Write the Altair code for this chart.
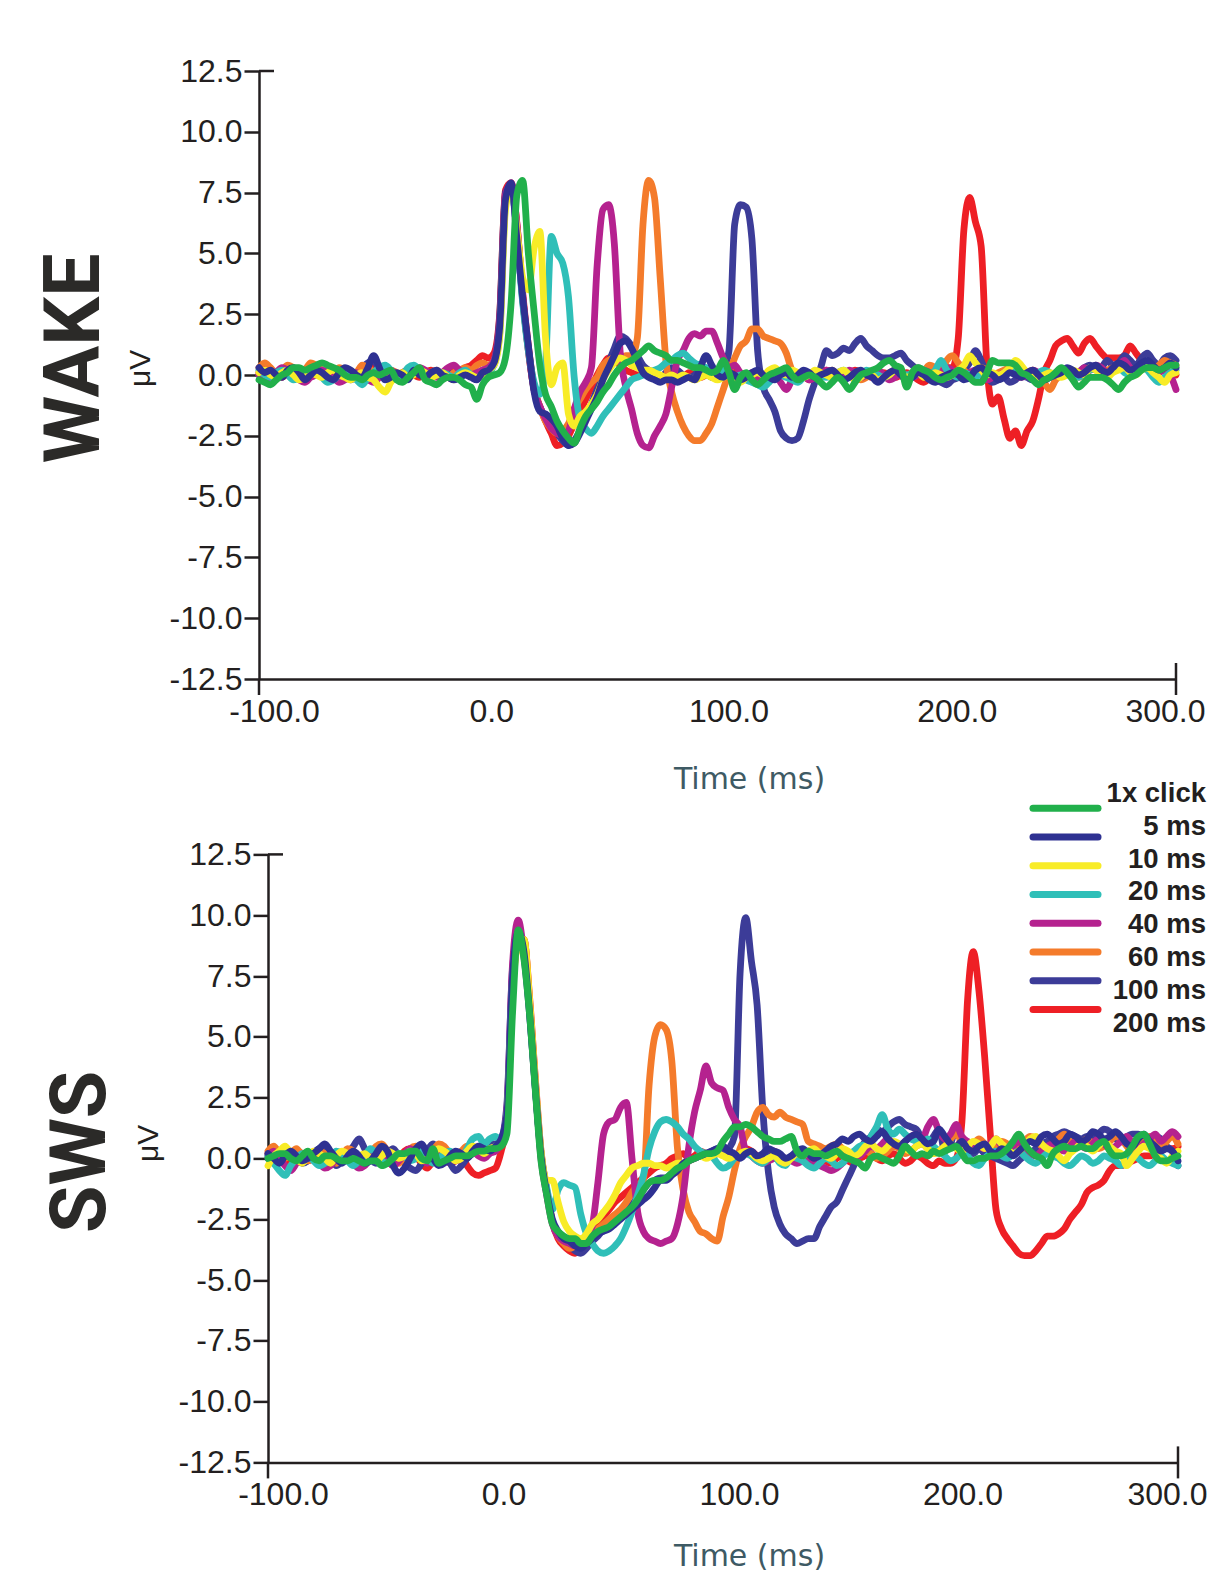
import altair as alt
import pandas as pd

SERIES = ["1x click", "5 ms", "10 ms", "20 ms", "40 ms", "60 ms", "100 ms", "200 ms"]
COLORS = ["#21b04b", "#2e3192", "#f8ec27", "#2fbfb8", "#b5228f", "#f47b2b", "#3c3c98", "#ee1f25"]
DRAW_ORDER = SERIES[::-1]          # green drawn last (on top)
T0, DT = -100.0, 2.5               # time grid of the traces (ms)
X_TICKS = [-100, 0, 100, 200, 300]
Y_TICKS = [-12.5, -10, -7.5, -5, -2.5, 0, 2.5, 5, 7.5, 10, 12.5]

# ---------------- WAKE traces (uV), one value every 2.5 ms from -100 to 300 ms ----------------
WAKE_1X = [-0.2, -0.3, -0.4, -0.2, 0.0, 0.1, 0.3, 0.3, 0.2, 0.3,
           0.4, 0.5, 0.4, 0.3, 0.2, 0.0, -0.1, -0.1, -0.2, 0.0,
           0.1, 0.0, 0.1, 0.2, -0.2, -0.3, -0.1, 0.1, 0.3, -0.2,
           -0.3, -0.4, -0.2, -0.1, -0.1, -0.2, -0.4, -0.5, -1.0, -0.4,
           -0.1, 0.0, 0.1, 0.7, 3.0, 7.4, 8.0, 5.0, 2.6, 0.4,
           -0.8, -1.3, -1.9, -2.3, -2.6, -2.8, -2.2, -1.7, -1.4, -1.1,
           -0.7, -0.4, 0.0, 0.3, 0.5, 0.6, 0.8, 1.0, 1.2, 1.0,
           0.9, 0.8, 0.6, 0.6, 0.5, 0.4, 0.3, 0.3, 0.2, 0.1,
           0.2, 0.6, 0.1, -0.6, -0.1, 0.1, -0.2, -0.4, -0.2, 0.0,
           0.1, 0.2, 0.3, 0.0, -0.2, -0.1, 0.0, -0.1, -0.3, -0.5,
           -0.3, -0.1, -0.3, -0.6, -0.3, 0.0, 0.1, 0.2, 0.3, 0.5,
           0.6, 0.4, 0.3, -0.5, 0.1, 0.3, 0.2, 0.1, -0.1, -0.2,
           -0.1, 0.0, 0.2, 0.1, -0.1, -0.3, -0.3, 0.1, 0.6, 0.5,
           0.5, 0.5, 0.4, 0.1, 0.0, -0.2, -0.4, -0.2, -0.1, 0.1,
           0.3, 0.1, -0.2, -0.5, -0.3, -0.1, -0.1, -0.1, -0.2, -0.4,
           -0.6, -0.3, -0.1, 0.0, 0.2, 0.3, 0.3, 0.2, 0.3, 0.4,
           0.4]
WAKE_5 = [0.3, 0.1, 0.2, 0.0, -0.1, 0.2, 0.3, 0.1, -0.2, 0.0,
          0.2, 0.1, -0.1, -0.2, 0.1, 0.3, 0.2, 0.0, -0.1, 0.3,
          0.8, 0.3, -0.2, -0.1, 0.1, 0.0, -0.2, 0.2, 0.0, -0.1,
          0.1, 0.2, 0.0, -0.1, -0.2, -0.1, 0.0, -0.1, -0.2, 0.1,
          0.2, 0.5, 2.0, 7.2, 7.9, 5.6, 3.2, 1.2, -0.7, -1.5,
          -1.6, -1.8, -2.1, -2.6, -2.9, -2.8, -2.4, -1.9, -1.4, -0.9,
          -0.2, 0.3, 0.8, 1.3, 1.4, 1.1, 0.6, 0.1, -0.1, -0.2,
          -0.3, -0.2, -0.2, -0.3, -0.2, -0.1, -0.2, 0.3, 0.8, 0.4,
          0.0, -0.1, 0.1, 0.0, -0.2, -0.1, 0.1, 0.2, 0.0, -0.1,
          -0.2, 0.0, 0.1, -0.1, 0.0, 0.2, 0.1, -0.1, 0.0, 0.1,
          0.2, 0.0, -0.2, -0.1, 0.1, 0.2, 0.0, -0.1, -0.3, -0.1,
          0.1, 0.2, 0.0, -0.2, -0.1, 0.1, 0.0, -0.2, -0.3, -0.1,
          0.0, 0.1, 0.0, -0.2, -0.1, 0.2, 0.3, 0.1, 0.0, -0.2,
          -0.1, 0.1, 0.0, -0.1, 0.1, 0.2, 0.0, -0.2, -0.1, 0.0,
          0.1, 0.3, 0.2, 0.0, 0.1, 0.3, 0.4, 0.2, 0.1, 0.3,
          0.5, 0.4, 0.2, 0.3, 0.5, 0.6, 0.4, 0.2, 0.3, 0.5,
          0.3]
WAKE_10 = [0.1, 0.2, 0.0, -0.1, 0.1, 0.2, 0.0, -0.2, -0.1, 0.1,
           0.0, -0.1, 0.1, 0.2, 0.0, -0.1, -0.2, 0.0, 0.1, -0.1,
           -0.2, -0.5, -0.7, -0.3, 0.0, 0.1, -0.1, 0.0, 0.2, 0.1,
           -0.1, 0.0, 0.1, -0.1, -0.2, 0.0, 0.1, 0.0, -0.1, 0.0,
           0.2, 0.4, 1.6, 6.8, 7.8, 6.0, 4.0, 3.5, 5.2, 5.9,
           1.5, -0.4, 0.3, 0.5, -1.6, -2.1, -1.7, -1.5, -1.2, -0.8,
           -0.2, 0.2, 0.5, 0.7, 0.6, 0.4, 0.3, 0.2, 0.2, 0.1,
           0.0, -0.1, 0.0, -0.1, 0.0, -0.1, -0.2, -0.1, 0.0, -0.1,
           -0.2, -0.1, 0.0, -0.2, -0.3, -0.1, 0.0, 0.1, 0.0, 0.2,
           0.3, 0.1, 0.0, 0.2, 0.1, -0.1, 0.0, 0.2, 0.1, 0.0,
           -0.1, 0.1, 0.2, 0.0, -0.2, -0.1, 0.1, 0.0, -0.2, -0.1,
           0.0, 0.2, 0.1, -0.1, 0.0, 0.1, -0.1, 0.0, 0.1, 0.0,
           -0.1, 0.0, 0.2, 0.4, 0.8, 0.5, 0.2, 0.0, 0.1, 0.0,
           0.1, 0.3, 0.6, 0.4, 0.1, 0.0, -0.1, 0.0, 0.1, 0.0,
           -0.1, 0.0, 0.2, 0.1, 0.0, 0.3, 0.2, 0.0, -0.1, 0.1,
           0.2, 0.3, 0.1, 0.0, 0.2, 0.3, 0.1, -0.1, -0.3, 0.0,
           0.1]
WAKE_20 = [0.2, 0.0, -0.1, 0.1, 0.2, 0.0, -0.2, -0.1, 0.0, 0.2,
           0.1, -0.1, -0.3, -0.2, 0.0, 0.1, 0.0, -0.2, -0.4, -0.1,
           0.1, 0.3, 0.4, 0.2, -0.1, 0.0, 0.3, 0.4, 0.2, 0.0,
           -0.1, 0.0, 0.1, 0.0, -0.1, 0.1, 0.2, 0.0, -0.1, 0.0,
           0.1, 0.4, 1.7, 7.0, 7.8, 5.8, 3.0, 1.0, -0.3, -0.8,
           0.5, 5.7, 5.0, 4.6, 3.2, -0.1, -1.8, -2.2, -2.4, -2.1,
           -1.7, -1.4, -1.1, -0.8, -0.5, -0.2, -0.1, 0.0, 0.1, 0.2,
           0.3, 0.5, 0.6, 0.8, 0.9, 0.7, 0.5, 0.4, 0.3, 0.2,
           0.1, 0.2, 0.0, -0.1, 0.0, -0.2, -0.3, -0.4, -0.5, -0.3,
           -0.1, 0.0, -0.1, -0.2, -0.3, -0.1, 0.0, 0.1, 0.0, -0.1,
           0.0, 0.1, 0.2, 0.0, -0.1, 0.0, 0.2, 0.1, 0.0, -0.1,
           0.0, 0.2, 0.1, 0.0, 0.1, 0.3, 0.2, 0.0, 0.2, 0.6,
           0.2, 0.0, -0.1, 0.1, 0.0, -0.1, 0.1, 0.2, 0.0, -0.1,
           0.0, 0.1, 0.2, 0.1, 0.0, -0.1, 0.1, 0.2, 0.1, 0.0,
           0.1, 0.2, 0.0, -0.1, 0.1, 0.2, 0.3, 0.1, 0.0, 0.2,
           0.3, 0.1, 0.0, 0.2, 0.4, 0.2, -0.1, -0.3, -0.1, 0.1,
           0.2]
WAKE_40 = [0.0, -0.2, -0.1, 0.1, 0.3, 0.2, 0.0, -0.2, -0.3, -0.1,
           0.0, 0.2, 0.1, -0.1, -0.3, -0.2, 0.0, 0.1, -0.1, -0.2,
           -0.3, -0.1, 0.1, 0.2, 0.0, -0.2, -0.1, 0.1, 0.3, 0.2,
           0.0, -0.1, 0.1, 0.3, 0.4, 0.2, 0.1, 0.0, 0.1, 0.2,
           0.3, 0.6, 2.2, 7.4, 7.9, 6.2, 3.3, 1.0, -0.6, -1.3,
           -1.8, -2.2, -2.4, -2.5, -2.3, -1.4, -0.7, -0.3, 0.3, 4.5,
           6.8, 7.0, 5.4, 1.0, -0.5, -1.4, -2.4, -2.9, -3.0, -2.5,
           -2.1, -1.6, -0.5, 0.6, 1.0, 1.5, 1.7, 1.6, 1.8, 1.8,
           1.3, 0.7, 0.3, 0.4, 0.1, 0.0, 0.1, -0.1, -0.2, 0.0,
           0.0, -0.3, -0.6, -0.2, 0.1, 0.0, -0.2, -0.1, 0.0, 0.2,
           0.1, -0.1, 0.0, 0.2, 0.1, -0.1, 0.0, 0.1, 0.2, 0.0,
           -0.2, -0.1, 0.1, 0.0, -0.1, 0.0, 0.2, 0.1, 0.0, 0.1,
           0.3, 0.2, 0.0, -0.1, 0.1, 0.2, 0.0, -0.2, -0.1, 0.0,
           0.1, 0.2, 0.0, -0.1, 0.0, 0.2, 0.1, -0.1, 0.0, 0.1,
           0.2, 0.1, 0.0, 0.1, 0.3, 0.2, 0.4, 0.3, 0.1, 0.2,
           0.4, 0.6, 0.3, 0.2, 0.4, 0.5, 0.3, 0.1, 0.2, 0.0,
           -0.6]
WAKE_60 = [0.3, 0.5, 0.3, 0.1, 0.2, 0.4, 0.3, 0.1, 0.2, 0.5,
           0.4, 0.2, 0.0, 0.1, 0.3, 0.2, 0.0, 0.1, 0.4, 0.3,
           0.1, -0.1, 0.0, 0.2, 0.1, 0.0, 0.2, 0.3, 0.1, 0.0,
           0.1, 0.2, 0.0, -0.1, 0.1, 0.2, 0.3, 0.2, 0.4, 0.5,
           0.4, 0.6, 2.0, 7.3, 7.8, 6.1, 3.2, 1.0, -0.6, -1.3,
           -1.9, -2.2, -2.4, -2.3, -2.0, -1.4, -1.0, -0.6, -0.3, -0.1,
           0.4, 0.6, 0.7, 0.7, 0.8, 0.8, 1.5, 6.2, 8.0, 7.3,
           4.0, 0.6, -0.7, -1.5, -2.1, -2.5, -2.7, -2.7, -2.4, -2.0,
           -1.3, -0.6, 0.1, 0.7, 1.2, 1.4, 1.9, 1.9, 1.6, 1.5,
           1.4, 1.3, 0.9, 0.2, 0.0, -0.1, 0.1, 0.0, -0.1, 0.1,
           0.2, 0.0, -0.1, 0.1, 0.0, -0.2, -0.1, 0.1, 0.0, -0.1,
           0.1, 0.2, 0.0, -0.2, 0.1, 0.3, 0.2, 0.4, 0.3, 0.1,
           0.6, 0.8, 0.5, 0.2, 0.0, 0.1, 0.3, 0.2, 0.0, 0.1,
           0.2, 0.3, 0.1, 0.0, 0.1, 0.2, 0.0, -0.3, -0.6, -0.2,
           0.0, 0.2, 0.1, -0.1, 0.0, 0.2, 0.3, 0.1, 0.2, 0.3,
           0.4, 0.5, 0.3, 0.2, 0.4, 0.5, 0.3, 0.4, 0.6, 0.5,
           0.4]
WAKE_100 = [0.0, 0.2, 0.1, -0.1, 0.0, 0.3, 0.2, 0.0, -0.1, 0.1,
            0.2, 0.0, -0.1, 0.1, 0.2, 0.0, -0.2, 0.0, 0.3, 0.5,
            0.6, 0.2, -0.1, 0.0, 0.1, -0.1, 0.0, 0.2, 0.1, 0.0,
            0.1, 0.0, -0.1, 0.1, 0.0, 0.1, 0.2, 0.1, 0.0, 0.2,
            0.3, 0.6, 2.4, 7.5, 7.8, 5.8, 3.1, 1.1, -0.6, -1.3,
            -1.8, -2.1, -2.4, -2.7, -2.9, -2.7, -2.3, -1.8, -1.2, -0.6,
            -0.1, 0.5, 1.1, 1.6, 1.5, 1.2, 0.8, 0.4, 0.2, 0.0,
            -0.1, 0.1, 0.3, 0.2, 0.0, -0.1, 0.0, 0.2, 0.1, -0.1,
            0.0, 0.2, 1.0, 6.2, 7.0, 6.9, 5.6, 1.0, -0.5, -1.0,
            -1.5, -2.3, -2.6, -2.7, -2.6, -1.9, -1.0, -0.3, 0.3, 1.0,
            0.8, 0.9, 1.1, 1.0, 1.3, 1.5, 1.2, 1.0, 0.8, 0.7,
            0.7, 0.8, 0.9, 0.6, 0.4, 0.2, 0.1, 0.0, -0.2, -0.3,
            -0.4, -0.2, -0.1, 0.2, 0.5, 1.0, 0.6, 0.0, -0.3, -0.2,
            -0.1, -0.3, -0.2, 0.0, -0.1, -0.2, 0.0, 0.1, -0.1, 0.0,
            0.1, 0.2, 0.0, 0.1, 0.3, 0.4, 0.2, 0.3, 0.6, 0.4,
            0.5, 0.8, 0.6, 0.4, 0.7, 0.9, 0.6, 0.4, 0.7, 0.8,
            0.6]
WAKE_200 = [0.1, 0.3, 0.2, 0.0, -0.1, 0.1, 0.2, 0.0, -0.2, 0.0,
            0.1, 0.2, 0.0, -0.1, 0.1, 0.2, 0.1, -0.1, 0.0, 0.2,
            0.4, 0.1, 0.0, -0.2, -0.1, 0.1, 0.2, 0.0, -0.1, 0.1,
            0.2, 0.0, -0.1, 0.1, 0.2, 0.1, 0.3, 0.4, 0.6, 0.8,
            0.7, 0.9, 2.5, 7.6, 7.9, 6.2, 3.4, 1.2, -0.5, -1.3,
            -1.9, -2.4, -2.9, -2.8, -2.5, -2.0, -1.5, -1.0, -0.5, 0.0,
            0.4, 0.7, 0.6, 0.4, 0.2, 0.1, 0.0, 0.1, 0.2, 0.0,
            -0.1, 0.0, 0.1, 0.0, -0.1, 0.1, 0.0, -0.1, 0.0, 0.1,
            0.0, -0.1, 0.1, 0.2, 0.0, -0.1, 0.0, 0.1, 0.0, -0.1,
            0.0, 0.1, 0.0, -0.1, 0.1, 0.0, -0.2, -0.1, 0.1, 0.2,
            0.1, 0.0, -0.1, 0.0, 0.2, 0.1, 0.0, -0.1, 0.0, 0.1,
            0.0, -0.1, 0.0, 0.1, 0.0, -0.2, -0.3, -0.1, 0.2, 0.4,
            0.3, 0.3, 1.5, 6.0, 7.3, 6.3, 5.3, 0.4, -1.2, -0.9,
            -1.8, -2.6, -2.3, -2.9, -2.3, -1.9, -1.0, 0.1, 0.6, 1.2,
            1.4, 1.5, 1.2, 0.9, 1.3, 1.5, 1.2, 0.9, 0.7, 0.7,
            0.7, 0.8, 1.2, 0.9, 0.6, 0.4, 0.3, 0.3, 0.2, 0.1,
            0.0]

# ---------------- SWS traces (uV) ----------------
SWS_1X = [0.0, 0.1, 0.2, 0.2, 0.0, -0.1, 0.1, 0.3, 0.0, -0.1,
          0.1, 0.1, 0.0, -0.1, -0.1, 0.0, -0.1, -0.2, -0.1, -0.1,
          -0.3, -0.2, 0.0, 0.2, 0.2, 0.3, 0.3, 0.0, -0.1, 0.4,
          -0.2, -0.1, 0.0, 0.1, 0.1, 0.1, 0.2, 0.3, 0.3, 0.4,
          0.4, 0.5, 1.0, 6.0, 9.4, 8.2, 5.9, 2.8, -0.1, -1.5,
          -2.7, -3.0, -3.2, -3.3, -3.3, -3.5, -3.5, -3.2, -3.0, -2.9,
          -2.8, -2.6, -2.4, -2.2, -2.0, -1.7, -1.3, -1.0, -0.9, -0.9,
          -0.8, -0.6, -0.4, -0.3, -0.1, 0.0, 0.1, 0.2, 0.2, 0.3,
          0.7, 1.0, 1.3, 1.3, 1.4, 1.3, 1.1, 0.9, 0.8, 0.7,
          0.7, 0.8, 0.9, 0.3, 0.1, 0.3, 0.2, 0.2, 0.1, 0.2,
          0.3, 0.1, 0.0, -0.1, -0.2, -0.4, 0.0, 0.1, 0.0, -0.1,
          -0.2, 0.1, 0.5, 0.3, 0.1, 0.2, 0.1, 0.3, 0.2, 0.3,
          0.4, 0.5, 0.2, -0.1, -0.1, 0.0, 0.0, 0.1, 0.1, 0.2,
          0.4, 0.7, 1.0, 0.6, 0.3, 0.1, 0.0, -0.3, 0.2, 0.4,
          0.5, 0.4, 0.4, 0.5, 0.4, 0.4, 0.6, 0.7, 0.3, 0.1,
          0.1, 0.2, 0.5, 0.9, 1.0, 0.6, 0.1, -0.1, -0.1, 0.0,
          0.1]
SWS_5 = [0.2, 0.0, -0.2, 0.1, 0.3, 0.1, -0.1, 0.0, 0.2, 0.4,
         0.6, 0.3, 0.0, -0.2, 0.1, 0.3, 0.1, -0.2, -0.1, 0.2,
         0.5, 0.3, -0.3, -0.6, -0.4, 0.0, 0.4, 0.6, 0.2, 0.0,
         -0.3, -0.2, 0.1, 0.3, 0.2, 0.0, 0.3, 0.5, 0.4, 0.3,
         0.5, 0.8, 1.8, 7.5, 9.3, 8.5, 6.0, 2.9, 0.1, -1.4,
         -2.5, -3.0, -3.3, -3.4, -3.6, -3.7, -3.5, -3.3, -3.1, -3.0,
         -2.9, -2.7, -2.5, -2.3, -2.1, -1.9, -1.7, -1.5, -1.2, -0.9,
         -0.9, -0.7, -0.5, -0.2, -0.1, 0.0, 0.1, 0.2, 0.3, 0.4,
         0.5, 0.3, 0.2, 0.0, 0.2, 0.3, 0.1, 0.2, 0.4, 0.3,
         0.2, 0.0, 0.1, 0.3, 0.4, 0.2, 0.0, 0.1, 0.3, 0.5,
         0.6, 0.8, 0.7, 0.9, 1.0, 0.8, 0.7, 0.9, 1.1, 0.8,
         0.6, 0.5, 0.7, 0.9, 1.0, 0.8, 0.6, 0.7, 1.2, 0.9,
         0.6, 0.5, 0.7, 0.4, 0.3, 0.5, 0.6, 0.3, 0.2, 0.4,
         0.3, 0.1, 0.3, 0.5, 0.7, 0.6, 0.9, 1.0, 0.8, 0.6,
         0.7, 1.0, 0.9, 0.7, 0.8, 1.1, 1.0, 0.8, 0.9, 1.1,
         0.9, 0.6, 0.5, 0.8, 1.0, 0.7, 0.5, 0.3, 0.4, 0.3,
         -0.1]
SWS_10 = [-0.3, 0.1, 0.3, 0.5, 0.2, 0.0, -0.2, 0.1, 0.3, 0.2,
          0.0, -0.2, 0.1, 0.3, 0.2, 0.0, 0.1, 0.2, 0.0, -0.1,
          0.1, 0.3, 0.2, 0.0, 0.1, 0.3, 0.2, -0.1, 0.0, 0.2,
          0.4, 0.3, 0.1, -0.1, 0.0, 0.3, 0.5, 0.4, 0.2, 0.4,
          0.5, 0.7, 1.6, 6.8, 8.8, 9.0, 6.5, 3.2, 0.3, -0.9,
          -0.9, -1.8, -2.6, -3.0, -3.2, -3.3, -3.1, -2.7, -2.5, -2.2,
          -1.9, -1.5, -1.0, -0.7, -0.4, -0.3, -0.2, -0.2, -0.3, -0.3,
          -0.4, -0.3, -0.2, -0.2, -0.1, 0.0, 0.1, 0.0, 0.1, 0.2,
          0.1, 0.0, 0.1, 0.2, 0.3, 0.2, 0.0, -0.1, 0.0, 0.1,
          -0.1, -0.2, 0.0, 0.2, 0.1, 0.3, 0.4, 0.2, 0.1, 0.0,
          0.2, 0.4, 0.3, 0.1, 0.2, 0.5, 0.6, 0.4, 0.3, 0.5,
          0.7, 0.6, 0.4, 0.3, 0.5, 0.6, 0.4, 0.2, 0.3, 0.5,
          0.6, 0.4, 0.3, 0.5, 0.7, 0.6, 0.4, 0.5, 0.8, 0.6,
          0.4, 0.2, 0.3, 0.5, 0.8, 0.9, 0.6, 0.4, 0.3, 0.1,
          -0.1, 0.2, 0.4, 0.6, 0.5, 0.3, 0.5, 0.7, 0.5, 0.3,
          0.2, -0.3, 0.0, 0.3, 0.5, 0.4, 0.2, 0.0, -0.2, 0.1,
          0.3]
SWS_20 = [0.1, -0.2, -0.5, -0.7, -0.3, 0.0, 0.2, 0.1, -0.1, -0.3,
          -0.2, 0.0, 0.3, 0.2, -0.1, -0.3, -0.1, 0.1, 0.4, 0.2,
          -0.1, -0.2, 0.0, 0.2, 0.1, -0.1, 0.0, 0.3, 0.1, -0.2,
          0.0, 0.2, 0.3, 0.1, 0.0, 0.4, 0.8, 0.9, 0.6, 0.8,
          0.9, 0.7, 1.8, 7.4, 9.1, 8.6, 6.2, 3.0, 0.2, -1.2,
          -2.1, -1.3, -1.0, -1.1, -1.2, -2.3, -3.1, -3.5, -3.8, -3.9,
          -3.8, -3.6, -3.3, -2.8, -2.2, -1.5, -0.7, 0.4, 1.1, 1.5,
          1.6, 1.5, 1.3, 1.0, 0.8, 0.5, 0.3, 0.2, 0.1, -0.2,
          -0.4, -0.3, 0.0, 0.1, 0.2, 0.1, -0.1, -0.2, 0.0, 0.1,
          -0.2, -0.3, 0.1, 0.0, -0.1, -0.3, -0.4, -0.2, 0.0, -0.1,
          -0.3, -0.2, 0.1, 0.3, 0.5, 0.6, 0.9, 1.3, 1.8, 1.2,
          1.0, 1.2, 1.0, 0.8, 0.7, 0.6, 0.8, 0.5, 0.3, 0.1,
          -0.1, 0.0, 0.2, 0.1, -0.2, -0.3, 0.0, 0.2, 0.3, 0.1,
          0.0, 0.2, 0.3, 0.1, -0.1, -0.2, 0.0, 0.2, 0.1, 0.0,
          -0.2, -0.3, -0.1, 0.1, 0.0, -0.2, -0.1, 0.1, 0.0, -0.1,
          -0.3, -0.1, 0.1, 0.0, -0.2, -0.3, -0.1, 0.1, -0.1, -0.2,
          -0.3]
SWS_40 = [0.1, 0.3, 0.0, -0.3, -0.5, -0.2, 0.1, 0.2, 0.0, -0.2,
          -0.4, -0.3, 0.0, 0.2, 0.1, -0.2, -0.4, -0.3, 0.0, 0.2,
          0.1, -0.1, -0.3, -0.1, 0.2, 0.4, 0.2, 0.0, -0.2, 0.0,
          0.2, 0.3, 0.1, -0.1, 0.0, 0.2, 0.3, 0.1, 0.0, 0.2,
          0.3, 0.6, 2.0, 8.0, 9.8, 8.4, 6.2, 3.0, 0.0, -1.5,
          -2.7, -3.2, -3.4, -3.5, -3.6, -3.5, -3.3, -2.8, -1.0, 1.0,
          1.5, 1.6, 2.1, 2.3, 0.0, -2.2, -3.0, -3.3, -3.4, -3.5,
          -3.4, -3.3, -2.7, -1.5, 0.5, 1.9, 2.8, 3.8, 3.1, 2.9,
          2.8, 2.1, 1.6, 1.3, 0.3, 0.1, -0.1, -0.2, -0.1, 0.0,
          0.1, 0.0, -0.1, -0.2, -0.1, 0.0, -0.2, -0.3, -0.4, -0.5,
          -0.4, -0.2, 0.0, 0.2, 0.1, 0.3, 0.5, 0.4, 0.6, 0.8,
          0.6, 0.5, 0.7, 0.9, 1.0, 0.8, 1.3, 1.6, 1.1, 0.8,
          1.0, 1.4, 0.9, 0.7, 0.6, 0.5, 0.4, 0.6, 0.8, 0.5,
          0.3, 0.5, 0.7, 0.4, 0.2, 0.1, 0.3, 0.5, 0.6, 0.4,
          0.3, 0.5, 0.7, 0.5, 0.4, 0.6, 0.8, 0.6, 0.4, 0.5,
          0.7, 0.9, 0.6, 0.4, 0.6, 0.8, 1.0, 0.7, 0.9, 1.1,
          0.9]
SWS_60 = [0.3, 0.5, 0.2, 0.0, 0.2, 0.4, 0.1, -0.1, 0.1, 0.3,
          0.2, 0.0, -0.2, 0.1, 0.4, 0.3, 0.0, -0.1, 0.2, 0.5,
          0.6, 0.3, 0.0, -0.2, 0.1, 0.4, 0.5, 0.2, 0.0, 0.3,
          0.6, 0.5, 0.2, 0.1, 0.3, 0.5, 0.4, 0.2, 0.1, 0.3,
          0.4, 0.6, 1.8, 7.0, 8.8, 9.0, 6.4, 3.1, 0.2, -1.3,
          -2.6, -3.2, -3.5, -3.7, -3.6, -3.5, -3.3, -3.1, -2.9, -2.7,
          -2.5, -2.3, -2.1, -1.8, -1.4, -1.1, -0.9, 3.0, 5.0, 5.5,
          5.3, 4.0, 0.4, -1.3, -2.2, -2.6, -3.0, -3.1, -3.3, -3.4,
          -2.4, -1.6, -0.5, 0.4, 0.9, 1.3, 1.9, 2.1, 1.8, 1.7,
          1.9, 1.7, 1.6, 1.5, 1.4, 0.7, 0.6, 0.5, 0.4, 0.5,
          0.6, 0.4, 0.2, 0.0, 0.1, 0.3, 0.2, 0.0, 0.1, 0.3,
          0.5, 0.4, 0.2, 0.3, 0.5, 0.6, 0.4, 0.2, 0.3, 0.5,
          0.8, 1.0, 0.7, 0.5, 0.6, 0.8, 0.6, 0.4, 0.5, 0.7,
          0.6, 0.4, 0.5, 0.7, 0.9, 0.8, 0.5, 0.4, 0.6, 0.8,
          1.0, 0.7, 0.5, 0.6, 0.8, 0.6, 0.4, 0.5, 0.7, 0.9,
          0.8, 0.5, 0.3, 0.5, 0.7, 0.9, 0.6, 0.4, 0.7, 0.9,
          0.6]
SWS_100 = [0.0, -0.2, -0.1, 0.1, 0.2, 0.0, -0.2, -0.1, 0.2, 0.4,
           0.3, 0.0, -0.3, -0.1, 0.2, 0.5, 0.8, 0.4, 0.0, -0.2,
           0.0, 0.2, 0.4, 0.1, -0.2, -0.4, -0.5, -0.2, 0.3, 0.6,
           0.4, 0.1, -0.2, -0.5, -0.3, 0.0, 0.2, 0.3, 0.4, 0.6,
           0.6, 0.8, 2.2, 7.8, 9.2, 8.3, 5.9, 2.9, 0.2, -1.4,
           -2.6, -3.1, -3.4, -3.6, -3.8, -3.9, -3.7, -3.4, -3.2, -2.9,
           -2.7, -2.5, -2.3, -2.1, -1.9, -1.6, -1.3, -1.0, -0.9, -0.8,
           -0.8, -0.6, -0.4, -0.3, -0.1, 0.0, 0.1, 0.2, 0.3, 0.4,
           0.2, 0.4, 0.9, 7.6, 9.9, 8.1, 6.3, 2.0, -0.6, -2.0,
           -2.7, -3.1, -3.3, -3.5, -3.4, -3.3, -3.3, -2.8, -2.4, -2.0,
           -1.8, -1.3, -0.8, -0.3, 0.3, 0.7, 0.9, 1.2, 1.1, 1.3,
           1.5, 1.6, 1.4, 1.3, 1.2, 0.8, 0.5, 0.9, 1.2, 0.3,
           0.6, 1.2, 0.8, 0.3, 0.2, 0.4, 0.2, 0.1, 0.0, -0.1,
           -0.2, -0.3, -0.1, 0.1, 0.2, 0.4, 0.6, 0.7, 0.9, 1.0,
           1.1, 1.0, 0.9, 0.8, 0.9, 0.8, 1.0, 1.2, 1.1, 0.8,
           0.7, 0.9, 1.0, 1.0, 0.8, 0.6, 0.9, 0.8, 0.5, 0.3,
           -0.3]
SWS_200 = [0.2, 0.4, 0.1, -0.2, 0.0, 0.3, 0.2, -0.1, 0.0, 0.2,
           0.3, 0.1, -0.2, -0.1, 0.2, 0.0, -0.3, -0.2, 0.1, 0.3,
           0.1, -0.1, -0.3, 0.0, 0.3, 0.4, 0.1, -0.2, -0.4, -0.1,
           0.2, 0.0, -0.2, -0.1, 0.1, -0.3, -0.6, -0.7, -0.6, -0.5,
           -0.4, 0.3, 1.5, 7.2, 8.8, 9.0, 6.6, 3.3, 0.3, -1.3,
           -2.6, -3.3, -3.6, -3.8, -3.9, -3.7, -3.4, -3.1, -2.8, -2.4,
           -2.1, -1.8, -1.6, -1.4, -1.2, -1.0, -0.8, -0.6, -0.4, -0.3,
           -0.2, 0.0, 0.1, 0.2, 0.0, 0.1, 0.3, 0.2, 0.1, 0.2,
           0.3, 0.1, 0.0, 0.2, 0.4, 0.3, 0.1, 0.0, 0.2, 0.3,
           0.1, -0.1, 0.0, 0.2, 0.1, -0.1, 0.0, 0.1, -0.1, -0.2,
           0.0, 0.1, -0.1, -0.2, 0.0, 0.1, 0.2, 0.0, -0.1, 0.1,
           0.2, 0.0, -0.2, -0.1, 0.1, 0.0, -0.2, -0.3, -0.1, -0.2,
           -0.2, 0.0, 1.5, 6.5, 8.5, 6.9, 4.2, 1.0, -2.1, -2.9,
           -3.3, -3.6, -3.9, -4.0, -4.0, -3.8, -3.5, -3.2, -3.2, -3.1,
           -2.9, -2.5, -2.2, -1.9, -1.4, -1.2, -1.1, -0.9, -0.5, -0.3,
           -0.3, -0.2, -0.1, 0.0, 0.1, 0.1, 0.2, 0.3, 0.4, 0.4,
           0.5]

WAKE = dict(zip(SERIES, [WAKE_1X, WAKE_5, WAKE_10, WAKE_20, WAKE_40, WAKE_60, WAKE_100, WAKE_200]))
SWS = dict(zip(SERIES, [SWS_1X, SWS_5, SWS_10, SWS_20, SWS_40, SWS_60, SWS_100, SWS_200]))

# x-label nudges as printed in the figure (pixels along the axis)
WAKE_LABEL_NUDGE = {-100: 15, 0: 3, 100: 11, 200: 10, 300: -11}
SWS_LABEL_NUDGE = {-100: 15, 0: 8, 100: 16, 200: 12, 300: -11}

INK = "#231f20"
LABEL_FONT = "Liberation Sans"
BIG_FONT = "Roboto"
PLOT_H = 608
HYPHEN_LABEL = "replace(datum.label, '\u2212', '-')"


def traces(panel):
    rows = []
    for name in DRAW_ORDER:
        for i, v in enumerate(panel[name]):
            rows.append({"t": T0 + DT * i, "v": v, "series": name})
    return pd.DataFrame(rows)


one = pd.DataFrame({"k": [0]})
color_scale = alt.Scale(domain=SERIES, range=COLORS)


def panel(data, word, word_xy, unit_xy, x0, x1, title_y, nudges, with_legend):
    label_offset = {
        "condition": [{"test": f"datum.value == {k}", "value": v} for k, v in nudges.items()],
        "value": 0,
    }
    lines = alt.Chart(traces(data)).mark_line(
        strokeWidth=6.8, strokeCap="round", strokeJoin="round", interpolate="monotone"
    ).encode(
        x=alt.X("t:Q", scale=alt.Scale(domain=[-100, 300], range=[x0, x1], nice=False, zero=False),
                axis=alt.Axis(values=X_TICKS, format=".1f", labelExpr=HYPHEN_LABEL,
                              ticks=False, grid=False,
                              labelFont=LABEL_FONT, labelFontSize=32, labelColor=INK,
                              labelPadding=17, labelFlush=False, labelOverlap=False,
                              labelOffset=label_offset,
                              domainColor=INK, domainWidth=2.5,
                              title="Time (ms)", titleFont="DejaVu Sans", titleFontSize=30,
                              titleFontWeight="normal", titleColor="#3e5a64",
                              titleX=490, titleY=title_y, titleAlign="center",
                              titleBaseline="alphabetic")),
        y=alt.Y("v:Q", scale=alt.Scale(domain=[-12.5, 12.5], nice=False, zero=False),
                axis=alt.Axis(values=Y_TICKS, format=".1f", labelExpr=HYPHEN_LABEL,
                              title=None, grid=False, offset=-x0,
                              labelFont=LABEL_FONT, labelFontSize=32, labelColor=INK,
                              labelPadding=2, labelOverlap=False, labelFlush=False,
                              tickSize=15, tickWidth=2.5, tickColor=INK,
                              domainColor=INK, domainWidth=2.5)),
        color=alt.Color("series:N", scale=color_scale, legend=None),
    )

    word_mark = alt.Chart(pd.DataFrame({"w": [word]})).mark_text(
        angle=270, font=BIG_FONT, fontSize=77, fontWeight="bold", color="#2b2a28",
        align="center", baseline="middle"
    ).encode(x=alt.value(word_xy[0]), y=alt.value(word_xy[1]), text="w:N")

    unit_mark = alt.Chart(pd.DataFrame({"u": ["μV"]})).mark_text(
        angle=270, font=LABEL_FONT, fontSize=30, color=INK, align="center", baseline="middle"
    ).encode(x=alt.value(unit_xy[0]), y=alt.value(unit_xy[1]), text="u:N")

    # axis end caps
    cap_top = alt.Chart(one).mark_rule(color=INK, strokeWidth=2.5).encode(
        x=alt.value(x0), x2=alt.value(x0 + 15), y=alt.value(0))
    cap_left = alt.Chart(one).mark_rule(color=INK, strokeWidth=2.5).encode(
        x=alt.value(x0), y=alt.value(PLOT_H), y2=alt.value(PLOT_H + 16))
    cap_right = alt.Chart(one).mark_rule(color=INK, strokeWidth=2.5).encode(
        x=alt.value(x1), y=alt.value(PLOT_H - 16), y2=alt.value(PLOT_H + 16))

    layers = [lines, cap_top, cap_left, cap_right, word_mark, unit_mark]

    if with_legend:
        leg = pd.DataFrame({"series": SERIES})
        leg_y = alt.Y("series:N", sort=SERIES,
                      scale=alt.Scale(domain=SERIES, range=[-60.5, 169.5], padding=0), axis=None)
        leg_lines = alt.Chart(leg).mark_rule(strokeWidth=7, strokeCap="round").encode(
            x=alt.value(774), x2=alt.value(839), y=leg_y,
            color=alt.Color("series:N", scale=color_scale, legend=None))
        leg_text = alt.Chart(leg).mark_text(
            align="right", baseline="middle", font=LABEL_FONT, fontSize=27.5,
            fontWeight="bold", color=INK
        ).encode(x=alt.value(947), y=leg_y, text="series:N")
        layers += [leg_lines, leg_text]
        top_pad, bottom_pad = -80, 700
    else:
        top_pad, bottom_pad = -62.1, 723

    # invisible spacers that fix the panel's outer extent
    sp_left = alt.Chart(one).mark_rule(opacity=0, strokeWidth=1).encode(x=alt.value(-250.5))
    sp_top = alt.Chart(one).mark_rule(opacity=0, strokeWidth=1).encode(y=alt.value(top_pad))
    sp_bottom = alt.Chart(one).mark_rule(opacity=0, strokeWidth=1).encode(y=alt.value(bottom_pad))
    layers += [sp_left, sp_top, sp_bottom]

    return alt.layer(*layers).resolve_scale(y="independent").properties(width=x1, height=PLOT_H)


top = panel(WAKE, "WAKE", (-183.4, 287.4), (-118, 297.4), 0, 917, 109, WAKE_LABEL_NUDGE, False)
bottom = panel(SWS, "SWS", (-177.3, 297.5), (-110, 289), 9, 919, 103, SWS_LABEL_NUDGE, True)

chart = alt.vconcat(top, bottom, spacing=-19.6).properties(
    padding=0, background="white"
).configure_view(stroke=None)

chart.save("out.html", embed_options={"renderer": "svg", "actions": False})
